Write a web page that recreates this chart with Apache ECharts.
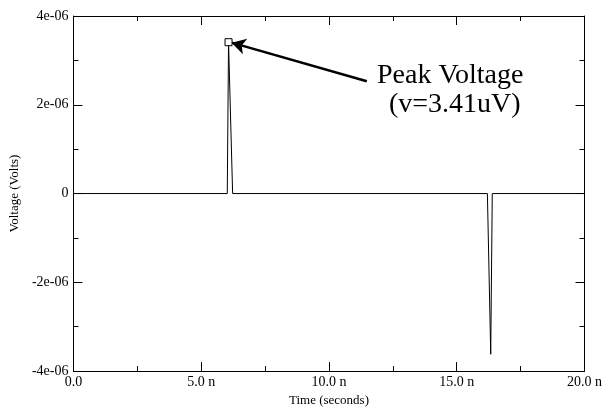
<!DOCTYPE html>
<html>
<head>
<meta charset="utf-8">
<script src="https://cdn.jsdelivr.net/npm/echarts@6/dist/echarts.min.js"></script>
<style>
  html, body { margin: 0; padding: 0; background: #fff; }
  #chart { width: 605px; height: 412px; }
</style>
</head>
<body>
<div id="chart"></div>
<script>
// time in nanoseconds, voltage in microvolts
const timeNs = [0, 6.02, 6.07, 6.23, 16.2, 16.33, 16.39, 20];
const voltageUV = [0, 0, 3.41, 0, 0, -3.62, 0, 0];
const xTicks = [0, 5, 10, 15, 20];
const yTicks = [-4, -2, 0, 2, 4];

// peak annotation
const peak = [6.07, 3.41];
const arrowFrom = [11.48, 2.53];
const arrowTo = [6.19, 3.40];

const font = 'Liberation Serif';

const chart = echarts.init(document.getElementById('chart'));

const xFmt = v => (v === 0 ? '0.0' : v.toFixed(1) + ' n');
const yFmt = v => (v === 0 ? '0' : (v < 0 ? '-' : '') + Math.abs(v) + 'e-06');

const tickCommon = {
    axisLine: { show: true, onZero: false, lineStyle: { color: '#000', width: 1 } },
    axisTick: { show: true, inside: true, length: 9, lineStyle: { color: '#000' } },
    minorTick: { show: true, splitNumber: 2, length: 5, lineStyle: { color: '#000' } },
    splitLine: { show: false }
};

chart.setOption({
    animation: false,
    grid: { left: 72, right: 19, top: 16, bottom: 36 },
    xAxis: [
        {
            type: 'value', min: xTicks[0], max: xTicks[xTicks.length - 1], interval: 5,
            position: 'bottom',
            name: 'Time (seconds)', nameLocation: 'middle', nameGap: 18,
            nameTextStyle: { fontFamily: font, fontSize: 13, color: '#000' },
            axisLabel: { formatter: xFmt, fontFamily: font, fontSize: 14, color: '#000', margin: 4 },
            ...tickCommon
        },
        {
            type: 'value', min: xTicks[0], max: xTicks[xTicks.length - 1], interval: 5,
            position: 'top',
            axisLabel: { show: false },
            ...tickCommon
        }
    ],
    yAxis: [
        {
            type: 'value', min: yTicks[0], max: yTicks[yTicks.length - 1], interval: 2,
            position: 'left',
            name: 'Voltage (Volts)', nameLocation: 'middle', nameGap: 45,
            nameTextStyle: { fontFamily: font, fontSize: 13, color: '#000' },
            axisLabel: { formatter: yFmt, fontFamily: font, fontSize: 14, color: '#000', margin: 5 },
            ...tickCommon
        },
        {
            type: 'value', min: yTicks[0], max: yTicks[yTicks.length - 1], interval: 2,
            position: 'right',
            axisLabel: { show: false },
            ...tickCommon
        }
    ],
    series: [
        {
            type: 'line',
            data: timeNs.map((t, i) => [t, voltageUV[i]]),
            showSymbol: false,
            lineStyle: { color: '#000', width: 1 },
            markPoint: {
                symbol: 'rect',
                symbolSize: 7,
                itemStyle: { color: '#fff', borderColor: '#000', borderWidth: 1 },
                label: { show: false },
                data: [{ coord: peak }]
            },
            markLine: {
                silent: true,
                symbolSize: [12, 14],
                lineStyle: { color: '#000', width: 2.5, type: 'solid' },
                label: { show: false },
                data: [[
                    { coord: arrowFrom, symbol: 'none' },
                    { coord: arrowTo, symbol: 'arrow' }
                ]]
            }
        }
    ],
    graphic: [
        {
            type: 'text', left: 377, top: 62,
            style: { text: 'Peak Voltage', fontFamily: font, fontSize: 28, fill: '#000' }
        },
        {
            type: 'text', left: 389, top: 91,
            style: { text: '(v=3.41uV)', fontFamily: font, fontSize: 28, fill: '#000' }
        }
    ]
});
</script>
</body>
</html>
